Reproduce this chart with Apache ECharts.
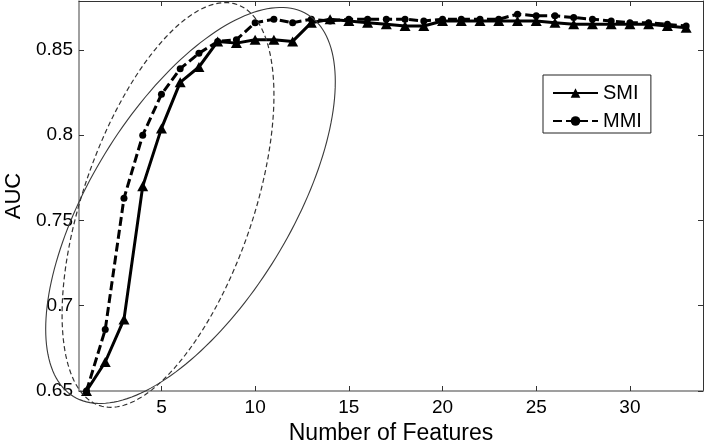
<!DOCTYPE html>
<html>
<head>
<meta charset="utf-8">
<style>
html,body{margin:0;padding:0;background:#fff;}
#chart{width:708px;height:440px;}
</style>
<script src="https://cdn.jsdelivr.net/npm/echarts@6/dist/echarts.min.js"></script>
</head>
<body>
<div id="chart"></div>
<script>
// ---- data ----
const features = [1,2,3,4,5,6,7,8,9,10,11,12,13,14,15,16,17,18,19,20,21,22,23,24,25,26,27,28,29,30,31,32,33];
const smi = [0.650,0.667,0.692,0.770,0.804,0.831,0.840,0.855,0.854,0.856,0.856,0.855,0.866,0.868,0.867,0.866,0.865,0.864,0.864,0.867,0.867,0.867,0.867,0.867,0.867,0.866,0.865,0.865,0.865,0.865,0.865,0.864,0.863];
const mmi = [0.650,0.686,0.763,0.800,0.824,0.839,0.848,0.855,0.856,0.866,0.868,0.866,0.868,0.867,0.868,0.868,0.868,0.868,0.867,0.868,0.868,0.868,0.868,0.871,0.870,0.870,0.869,0.868,0.867,0.866,0.866,0.865,0.864];
const xTicks = [5,10,15,20,25,30];
const yTicks = [0.65,0.7,0.75,0.8,0.85];
const seriesNames = ['SMI','MMI'];

const chart = echarts.init(document.getElementById('chart'), null, {renderer:'canvas'});
const FONT = 'Liberation Sans';
const xMin = 0.6, xMax = 33.9, yMin = 0.65, yMax = 0.8787;

function axisCommon(isMain, ticks){
  return {
    type:'value',
    axisLine:{show:true, onZero:false, lineStyle:{color:isMain?'#808080':'#333', width:isMain?1.5:1}},
    axisTick:{show:true, inside:true, length:5, customValues:ticks, lineStyle:{color:'#333', width:1}},
    splitLine:{show:false},
  };
}

const option = {
  animation:false,
  backgroundColor:'#fff',
  grid:{left:79, right:5, top:1, bottom:49, containLabel:false, outerBoundsMode:'none'},
  xAxis:[
    Object.assign(axisCommon(true, xTicks), {
      position:'bottom', min:xMin, max:xMax,
      axisLabel:{show:true, customValues:xTicks, fontSize:19, fontFamily:FONT, color:'#000', margin:7},
      name:'Number of Features', nameLocation:'middle', nameGap:22,
      nameTextStyle:{fontSize:23, fontFamily:FONT, color:'#000'}
    }),
    Object.assign(axisCommon(false, xTicks), {
      position:'top', min:xMin, max:xMax, axisLabel:{show:false}
    })
  ],
  yAxis:[
    Object.assign(axisCommon(true, yTicks), {
      position:'left', min:yMin, max:yMax,
      axisLabel:{show:true, customValues:yTicks, fontSize:19, fontFamily:FONT, color:'#000', margin:6,
        formatter:function(v){return String(+v.toFixed(2));}},
      name:'AUC', nameLocation:'middle', nameGap:43, nameRotate:90,
      nameTextStyle:{fontSize:22, fontFamily:FONT, color:'#000'}
    }),
    Object.assign(axisCommon(false, yTicks), {
      position:'right', min:yMin, max:yMax, axisLabel:{show:false}
    })
  ],
  legend:{
    orient:'vertical', left:543, top:75,
    data:seriesNames,
    borderColor:'#222', borderWidth:1, backgroundColor:'#fff',
    padding:[8,9,2,9], itemGap:8, itemWidth:45, itemHeight:12,
    textStyle:{fontSize:20, fontFamily:FONT, color:'#000'}
  },
  series:[
    {
      name:seriesNames[0], type:'line', xAxisIndex:0, yAxisIndex:0,
      data:features.map((f,i)=>[f, smi[i]]),
      symbol:'triangle', symbolSize:[11,10], showAllSymbol:true,
      lineStyle:{color:'#000', width:3},
      itemStyle:{color:'#000'}, z:3
    },
    {
      name:seriesNames[1], type:'line', xAxisIndex:0, yAxisIndex:0,
      data:features.map((f,i)=>[f, mmi[i]]),
      symbol:'circle', symbolSize:7, showAllSymbol:true,
      lineStyle:{color:'#000', width:3, type:[9,4]},
      itemStyle:{color:'#000'}, z:2
    }
  ]
};
chart.setOption(option);

// annotation ellipses: centre in data coords, semi-axes in px, tilt in degrees
const ellipses = [
  {cx:6.55, cy:0.7588, a:224, b:100, tilt:58.5, dash:null, color:'#3a3a3a', width:1.1},
  {cx:5.35, cy:0.7591, a:212, b:85, tilt:71, dash:[5,3], color:'#333', width:1.2}
];
const graphics = ellipses.map(e=>{
  const c = chart.convertToPixel({xAxisIndex:0, yAxisIndex:0}, [e.cx, e.cy]);
  const th = e.tilt*Math.PI/180, pts=[];
  for(let k=0;k<=180;k++){
    const t = k/180*2*Math.PI;
    const dx = e.a*Math.cos(t)*Math.cos(th) - e.b*Math.sin(t)*Math.sin(th);
    const dy = e.a*Math.cos(t)*Math.sin(th) + e.b*Math.sin(t)*Math.cos(th);
    pts.push([c[0]+dx, c[1]-dy]);
  }
  return {type:'polyline', z:10, silent:true, shape:{points:pts, smooth:0},
    style:{stroke:e.color, lineWidth:e.width, fill:null, lineDash:e.dash}};
});
chart.setOption({graphic:graphics});
</script>
</body>
</html>
